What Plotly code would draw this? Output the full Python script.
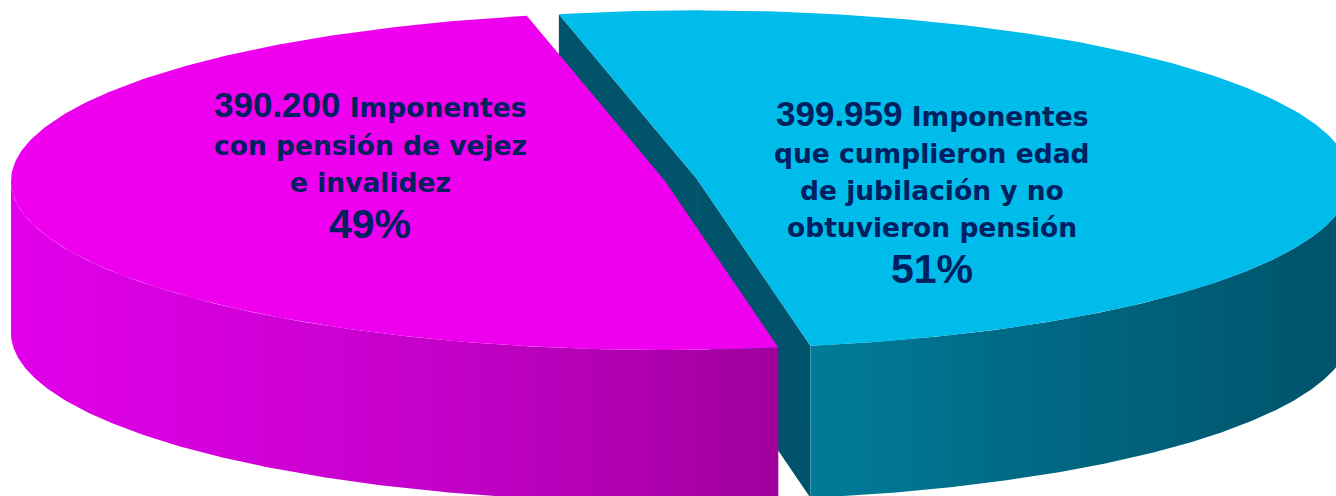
import numpy as np
import plotly.graph_objects as go

# ---- data -------------------------------------------------------------
values = [390200, 399959]
captions = [
    ["Imponentes", "con pensión de vejez", "e invalidez"],
    ["Imponentes", "que cumplieron edad", "de jubilación y no", "obtuvieron pensión"],
]
top_colors = ["#EE00EE", "#00BCEB"]
face_colors = ["#8E008C", "#00536A"]
wall_scales = [
    [[0.0, "#E200EA"], [0.55, "#C400CA"], [1.0, "#A0009C"]],
    [[0.0, "#007C98"], [0.5, "#006580"], [1.0, "#00526A"]],
]
explode = [0.0, 0.05]

# ---- pie geometry (pixel space, y grows downward) ---------------------
W, H = 1336, 496
CX, CY = 665.0, 181.0
RX, RY = 654.0, 169.0
DEPTH = 152.0
START = 102.2  # degrees, counter-clockwise

total = float(sum(values))
spans = [360.0 * v / total for v in values]
starts = [START + sum(spans[:i]) for i in range(len(values))]


def pt(cx, cy, deg, dy=0.0):
    t = np.radians(deg)
    return cx + RX * np.cos(t), cy - RY * np.sin(t) + dy


def arc(cx, cy, a, b, dy=0.0, n=240):
    t = np.linspace(a, b, n)
    x, y = pt(cx, cy, t, dy)
    return list(x), list(y)


fig = go.Figure()


def poly(xs, ys, color=None, gradient=None):
    kw = dict(x=xs, y=ys, mode="lines", fill="toself",
              line=dict(width=0), hoverinfo="skip", showlegend=False)
    if gradient is not None:
        kw["fillgradient"] = dict(type="horizontal", colorscale=gradient)
    else:
        kw["fillcolor"] = color
    fig.add_trace(go.Scatter(**kw))


slices = []
for i in range(len(values)):
    a, b = starts[i], starts[i] + spans[i]
    mid = np.radians((a + b) / 2)
    cx = CX + explode[i] * RX * np.cos(mid)
    cy = CY - explode[i] * RY * np.sin(mid)
    slices.append((np.sin(mid), i, a, b, cx, cy))

# back slices first
for _, i, a, b, cx, cy in sorted(slices, key=lambda s: -s[0]):
    # radial faces that turn toward the viewer
    for ang, show in ((a, np.cos(np.radians(a)) > 0), (b, np.cos(np.radians(b)) < 0)):
        if show:
            px, py = pt(cx, cy, ang)
            poly([cx, px, px, cx, cx], [cy, py, py + DEPTH, cy + DEPTH, cy],
                 color=face_colors[i])
    # outer wall on the front half
    for k in range(-1, 3):
        lo, hi = max(a, 180 + 360 * k), min(b, 360 + 360 * k)
        if lo < hi:
            tx, ty = arc(cx, cy, lo, hi)
            bx, by = arc(cx, cy, hi, lo, DEPTH)
            poly(tx + bx + [tx[0]], ty + by + [ty[0]], gradient=wall_scales[i])
    # top face
    ax, ay = arc(cx, cy, a, b)
    poly([cx] + ax + [cx], [cy] + ay + [cy], color=top_colors[i])

# ---- labels -----------------------------------------------------------
TEXT = "#002060"
SMALL, NUM, PCT = 26.5, 35, 41
label_x = [370, 932]
baselines = [[117, 155, 192, 238], [126, 163, 200, 237, 283]]

for i, v in enumerate(values):
    num = f"{v:,}".replace(",", ".")
    pct = f"{round(100 * v / total)}%"
    lines = captions[i]
    base = baselines[i]
    first = (f"<span style='font-family:Liberation Sans;font-size:{NUM}px'>{num}</span> "
             f"{lines[0]}")
    entries = [(first, SMALL, "DejaVu Sans", base[0] - 12.1)]
    for j, s in enumerate(lines[1:], start=1):
        entries.append((s, SMALL, "DejaVu Sans", base[j] - 0.346 * SMALL))
    entries.append((pct, PCT, "Liberation Sans", base[-1] - 0.3465 * PCT))
    for txt, size, fam, yc in entries:
        fig.add_annotation(x=label_x[i], y=yc, xref="x", yref="y", text=txt,
                           showarrow=False, xanchor="center", yanchor="middle",
                           font=dict(family=fam, size=size, color=TEXT, weight="bold"))

fig.update_layout(
    width=W, height=H, margin=dict(l=0, r=0, t=0, b=0),
    paper_bgcolor="white", plot_bgcolor="white",
    xaxis=dict(range=[0, W], visible=False, fixedrange=True),
    yaxis=dict(range=[H, 0], visible=False, fixedrange=True),
)

fig.write_html("out.html")
